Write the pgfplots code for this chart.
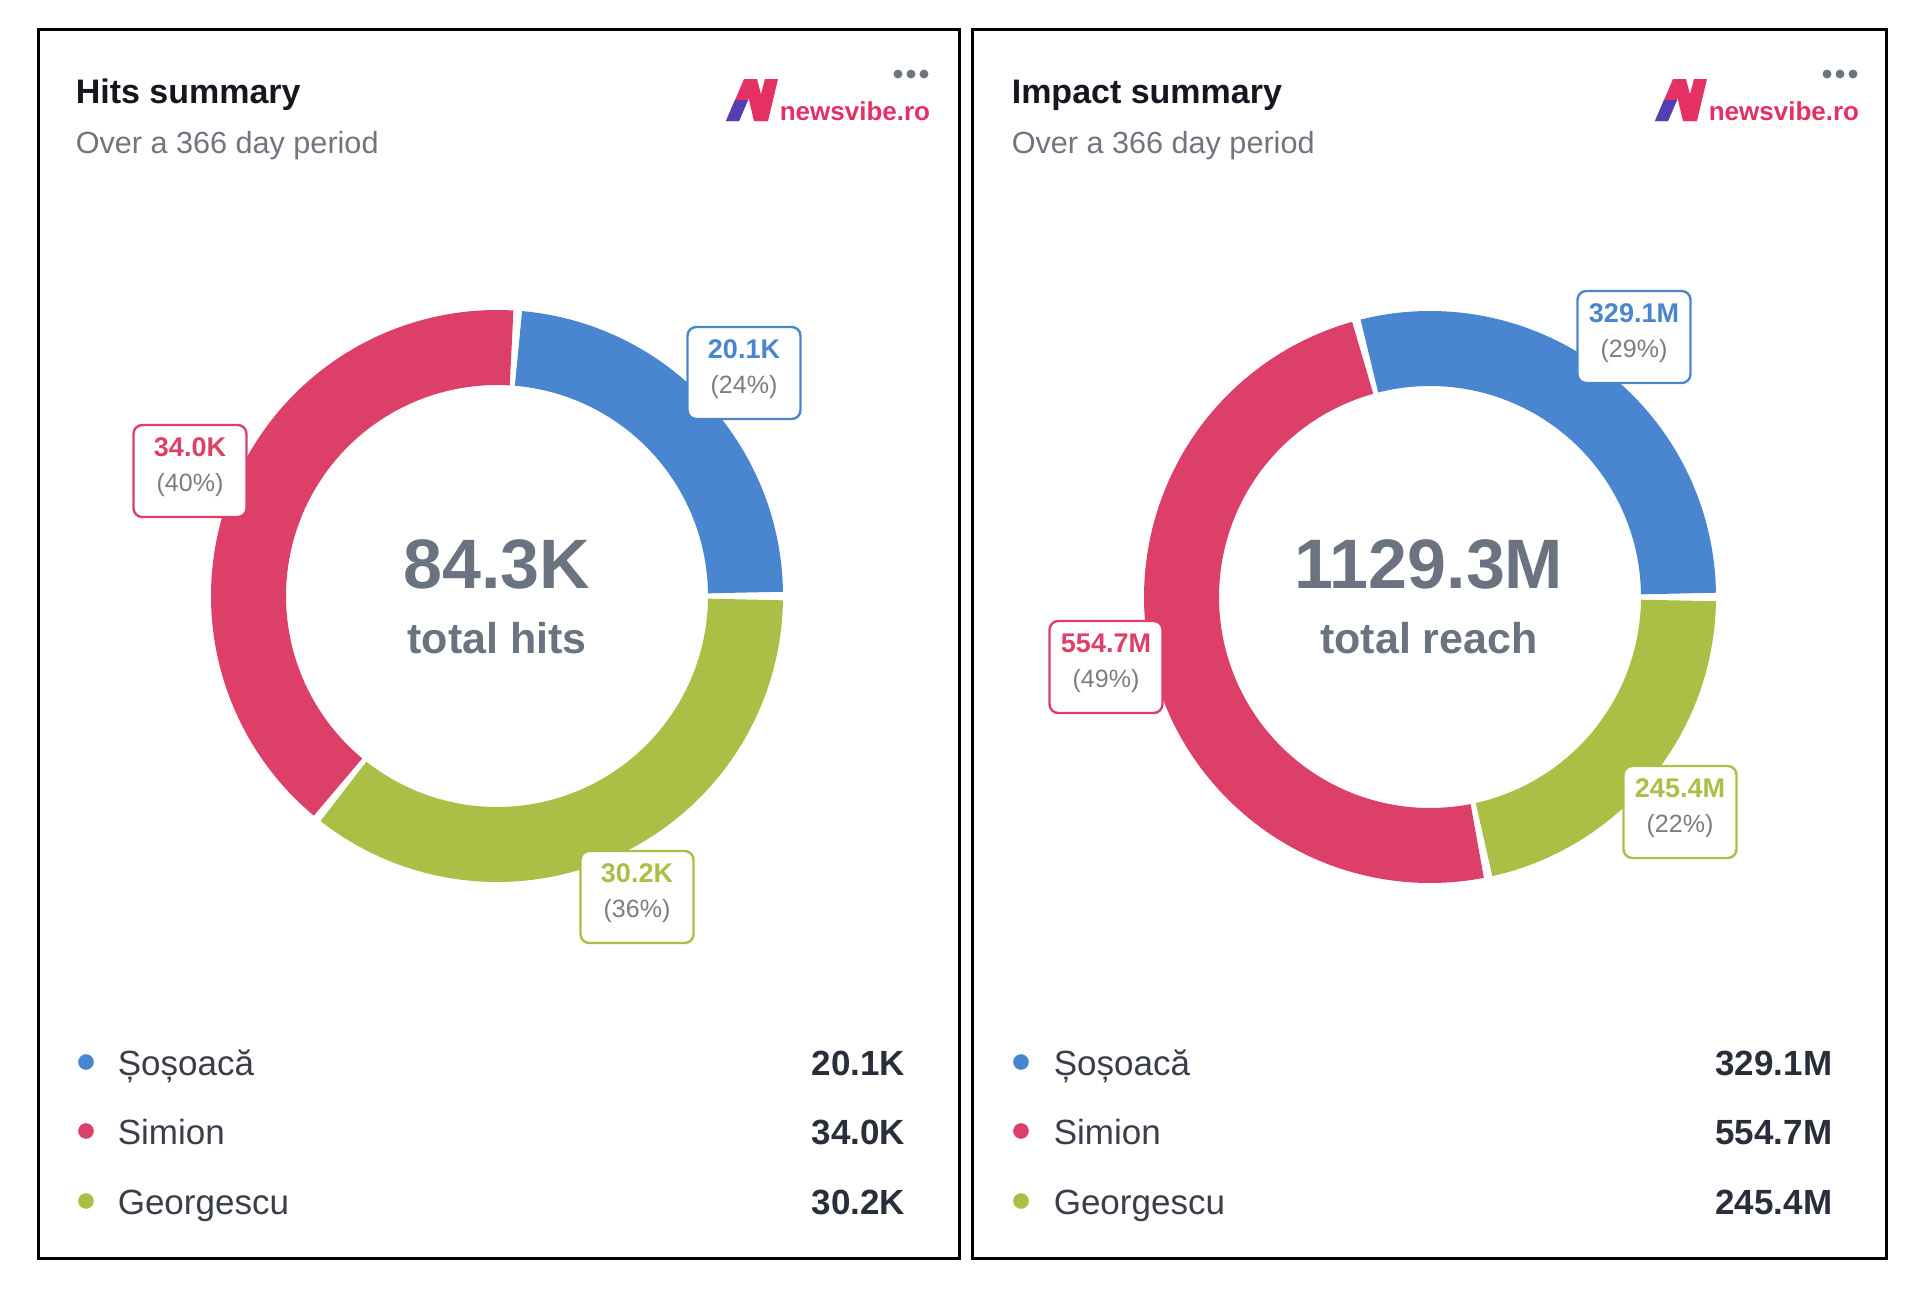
\documentclass[border=0pt]{standalone}
\usepackage{pgfplots}
\pgfplotsset{compat=1.18}
\usepackage{pgfplotstable}
\usepackage{fontspec}
\setmainfont{Liberation Sans}

\definecolor{cblue}{RGB}{74,134,207}
\definecolor{cred}{RGB}{220,64,104}
\definecolor{cgreen}{RGB}{170,191,69}
\definecolor{cgray}{RGB}{107,114,128}
\definecolor{ctitle}{RGB}{22,22,32}
\definecolor{csub}{RGB}{112,117,128}
\definecolor{cleg}{RGB}{58,62,74}
\definecolor{cval}{RGB}{42,46,58}
\definecolor{cpct}{RGB}{125,125,125}
\definecolor{cpink}{RGB}{228,48,98}
\definecolor{cpurple}{RGB}{84,62,178}
\definecolor{cdots}{RGB}{110,115,130}

% Hits summary
\pgfplotstableread{
value pct
20.1 24
34.0 40
30.2 36
}\hits
% Impact summary (reach, millions)
\pgfplotstableread{
value pct
329.1 29
554.7 49
245.4 22
}\reach

\pgfplotstablegetelem{0}{value}\of\hits \global\let\hA\pgfplotsretval
\pgfplotstablegetelem{1}{value}\of\hits \global\let\hB\pgfplotsretval
\pgfplotstablegetelem{2}{value}\of\hits \global\let\hC\pgfplotsretval
\pgfplotstablegetelem{0}{pct}\of\hits \global\let\hPA\pgfplotsretval
\pgfplotstablegetelem{1}{pct}\of\hits \global\let\hPB\pgfplotsretval
\pgfplotstablegetelem{2}{pct}\of\hits \global\let\hPC\pgfplotsretval
\pgfplotstablegetelem{0}{value}\of\reach \global\let\rA\pgfplotsretval
\pgfplotstablegetelem{1}{value}\of\reach \global\let\rB\pgfplotsretval
\pgfplotstablegetelem{2}{value}\of\reach \global\let\rC\pgfplotsretval
\pgfplotstablegetelem{0}{pct}\of\reach \global\let\rPA\pgfplotsretval
\pgfplotstablegetelem{1}{pct}\of\reach \global\let\rPB\pgfplotsretval
\pgfplotstablegetelem{2}{pct}\of\reach \global\let\rPC\pgfplotsretval

\pgfmathsetmacro\hT{\hA+\hB+\hC}
\pgfmathsetmacro\hOne{360*(\hA/\hT)}
\pgfmathsetmacro\hTwo{\hOne+360*(\hB/\hT)}
\pgfmathsetmacro\hBe{\hOne-0.8}
\pgfmathsetmacro\hRs{\hOne+0.8}
\pgfmathsetmacro\hRe{\hTwo-0.8}
\pgfmathsetmacro\hGs{\hTwo+0.8}

\pgfmathsetmacro\rT{\rA+\rB+\rC}
\pgfmathsetmacro\rOne{360*(\rA/\rT)}
\pgfmathsetmacro\rTwo{\rOne+360*(\rB/\rT)}
\pgfmathsetmacro\rBe{\rOne-0.8}
\pgfmathsetmacro\rRs{\rOne+0.8}
\pgfmathsetmacro\rRe{\rTwo-0.8}
\pgfmathsetmacro\rGs{\rTwo+0.8}

\newcommand\fs[1]{\fontsize{#1}{#1}\selectfont}

% ring segment: cx, cy, from, to, colour
\newcommand\seg[5]{%
  \addplot[#5, line width=18.75pt, domain=#3:#4, samples=120]
    ({#1+248.5*cos(x)},{#2-248.5*sin(x)});
}
% value label box: cx, cy, colour, value, pct
\newcommand\lbl[5]{%
  \node[draw=#3, line width=0.6pt, rounded corners=2.2pt, fill=white,
        minimum width=28.25pt, minimum height=23pt, inner sep=0pt]
        at (axis cs:#1,#2) {};
  \node[anchor=base, inner sep=0pt, font=\fs{6.75pt}\bfseries, text=#3]
        at (axis cs:#1,#2-15) {#4};
  \node[anchor=base, inner sep=0pt, font=\fs{6.25pt}, text=cpct]
        at (axis cs:#1,#2+20) {(#5\%)};
}

\begin{document}
\begin{tikzpicture}
\begin{axis}[width=480pt, height=323.75pt, scale only axis,
  xmin=0, xmax=1920, ymin=0, ymax=1295, y dir=reverse,
  hide axis, clip=false]

\path (axis cs:0,0) rectangle (axis cs:1920,1295);

% panel frames
\draw[line width=0.75pt, black] (axis cs:38,29) rectangle (axis cs:959,1258);
\draw[line width=0.75pt, black] (axis cs:972,29) rectangle (axis cs:1886,1258);

% ---------- left panel ----------
\seg{497}{596}{0.8}{\hBe}{cblue}
\seg{497}{596}{\hRs}{\hRe}{cred}
\seg{497}{596}{\hGs}{359.2}{cgreen}

% logo
\addplot[fill=cpink, draw=none] coordinates {(726,121)(739,121)(757,79)(744,79)} -- cycle;
\addplot[fill=cpurple, draw=none] coordinates {(726,121)(739,121)(748,100)(735,100)} -- cycle;
\addplot[fill=cpink, draw=none] coordinates {(744,79)(757,79)(768,121)(754,121)} -- cycle;
\addplot[fill=cpink, draw=none] coordinates {(754,121)(768,121)(778,79)(765,79)} -- cycle;
\addplot[only marks, mark=*, mark size=0.9pt, color=cdots] coordinates {(898,74)(911,74)(924,74)};
\node[anchor=base west, inner sep=0pt, font=\fs{6.5pt}\bfseries, text=cpink] at (axis cs:779,121) {newsvibe.ro};

\node[anchor=base west, inner sep=0pt, font=\fs{8.5pt}\bfseries, text=ctitle] at (axis cs:75,103) {Hits summary};
\node[anchor=base west, inner sep=0pt, font=\fs{7.65pt}, text=csub] at (axis cs:75,153) {Over a 366 day period};

\node[anchor=base, inner sep=0pt, font=\fs{17.5pt}\bfseries, text=cgray] at (axis cs:497,588) {84.3K};
\node[anchor=base, inner sep=0pt, font=\fs{10.75pt}\bfseries, text=cgray] at (axis cs:497,653) {total hits};

\lbl{744}{373}{cblue}{\hA K}{\hPA}
\lbl{190}{471}{cred}{\hB K}{\hPB}
\lbl{637}{897}{cgreen}{\hC K}{\hPC}

% legend
\addplot[only marks, mark=*, mark size=1.75pt, color=cblue] coordinates {(86,1062)};
\addplot[only marks, mark=*, mark size=1.75pt, color=cred] coordinates {(86,1131)};
\addplot[only marks, mark=*, mark size=1.75pt, color=cgreen] coordinates {(86,1201)};
\node[anchor=base west, inner sep=0pt, font=\fs{8.75pt}, text=cleg] at (axis cs:117,1075) {Șoșoacă};
\node[anchor=base west, inner sep=0pt, font=\fs{8.75pt}, text=cleg] at (axis cs:117,1144) {Simion};
\node[anchor=base west, inner sep=0pt, font=\fs{8.75pt}, text=cleg] at (axis cs:117,1214) {Georgescu};
\node[anchor=base east, inner sep=0pt, font=\fs{8.75pt}\bfseries, text=cval] at (axis cs:906,1075) {\hA K};
\node[anchor=base east, inner sep=0pt, font=\fs{8.75pt}\bfseries, text=cval] at (axis cs:906,1144) {\hB K};
\node[anchor=base east, inner sep=0pt, font=\fs{8.75pt}\bfseries, text=cval] at (axis cs:906,1214) {\hC K};

% ---------- right panel ----------
\seg{1430}{597}{0.8}{\rBe}{cblue}
\seg{1430}{597}{\rRs}{\rRe}{cred}
\seg{1430}{597}{\rGs}{359.2}{cgreen}

\addplot[fill=cpink, draw=none] coordinates {(1655,121)(1668,121)(1686,79)(1673,79)} -- cycle;
\addplot[fill=cpurple, draw=none] coordinates {(1655,121)(1668,121)(1677,100)(1664,100)} -- cycle;
\addplot[fill=cpink, draw=none] coordinates {(1673,79)(1686,79)(1697,121)(1683,121)} -- cycle;
\addplot[fill=cpink, draw=none] coordinates {(1683,121)(1697,121)(1707,79)(1694,79)} -- cycle;
\addplot[only marks, mark=*, mark size=0.9pt, color=cdots] coordinates {(1827,74)(1840,74)(1853,74)};
\node[anchor=base west, inner sep=0pt, font=\fs{6.5pt}\bfseries, text=cpink] at (axis cs:1708,121) {newsvibe.ro};

\node[anchor=base west, inner sep=0pt, font=\fs{8.5pt}\bfseries, text=ctitle] at (axis cs:1011,103) {Impact summary};
\node[anchor=base west, inner sep=0pt, font=\fs{7.65pt}, text=csub] at (axis cs:1011,153) {Over a 366 day period};

\node[anchor=base, inner sep=0pt, font=\fs{17.5pt}\bfseries, text=cgray] at (axis cs:1429,588) {1129.3M};
\node[anchor=base, inner sep=0pt, font=\fs{10.75pt}\bfseries, text=cgray] at (axis cs:1429,653) {total reach};

\lbl{1634}{337}{cblue}{\rA M}{\rPA}
\lbl{1106}{667}{cred}{\rB M}{\rPB}
\lbl{1680}{812}{cgreen}{\rC M}{\rPC}

\addplot[only marks, mark=*, mark size=1.75pt, color=cblue] coordinates {(1021,1062)};
\addplot[only marks, mark=*, mark size=1.75pt, color=cred] coordinates {(1021,1131)};
\addplot[only marks, mark=*, mark size=1.75pt, color=cgreen] coordinates {(1021,1201)};
\node[anchor=base west, inner sep=0pt, font=\fs{8.75pt}, text=cleg] at (axis cs:1053,1075) {Șoșoacă};
\node[anchor=base west, inner sep=0pt, font=\fs{8.75pt}, text=cleg] at (axis cs:1053,1144) {Simion};
\node[anchor=base west, inner sep=0pt, font=\fs{8.75pt}, text=cleg] at (axis cs:1053,1214) {Georgescu};
\node[anchor=base east, inner sep=0pt, font=\fs{8.75pt}\bfseries, text=cval] at (axis cs:1833,1075) {\rA M};
\node[anchor=base east, inner sep=0pt, font=\fs{8.75pt}\bfseries, text=cval] at (axis cs:1833,1144) {\rB M};
\node[anchor=base east, inner sep=0pt, font=\fs{8.75pt}\bfseries, text=cval] at (axis cs:1833,1214) {\rC M};

\end{axis}
\end{tikzpicture}
\end{document}
